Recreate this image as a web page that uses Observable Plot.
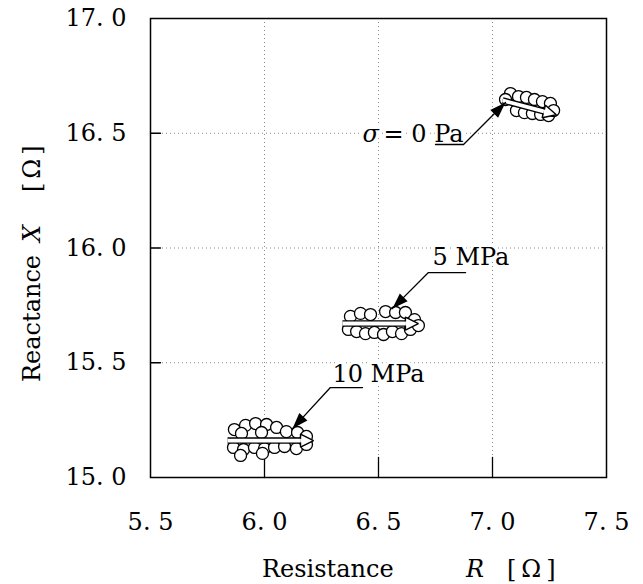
<!DOCTYPE html>
<html>
<head>
<meta charset="utf-8">
<script src="https://cdn.jsdelivr.net/npm/d3@7"></script>
<script src="https://cdn.jsdelivr.net/npm/@observablehq/plot@0.6"></script>
<style>
  html, body { margin: 0; padding: 0; background: #fff; }
  #chart svg { display: block; }
  #chart svg text.axis-title, #chart svg text.axis-title tspan { font-family: "DejaVu Serif", serif; font-size: 24px; }
</style>
</head>
<body>
<div id="chart"></div>
<script>
// ---- axis values and tick labels ----
const xTickValues = [5.5, 6.0, 6.5, 7.0, 7.5];
const xTickLabels = ["5. 5", "6. 0", "6. 5", "7. 0", "7. 5"];
const yTickValues = [15.0, 15.5, 16.0, 16.5, 17.0];
const yTickLabels = ["15. 0", "15. 5", "16. 0", "16. 5", "17. 0"];
const gridR = [6.0, 6.5, 7.0];
const gridX = [15.5, 16.0, 16.5];

// ---- measured points (R, X) for each stress level ----
const r0Pa = [7.079, 7.114, 7.149, 7.184, 7.219, 7.254, 7.105, 7.140, 7.175, 7.211, 7.246, 7.268, 7.057];
const x0Pa = [16.673, 16.660, 16.656, 16.647, 16.638, 16.630, 16.599, 16.590, 16.586, 16.582, 16.577, 16.599, 16.647];

const r5MPa = [6.377, 6.421, 6.465, 6.531, 6.575, 6.618, 6.658, 6.368, 6.404, 6.443, 6.482, 6.522, 6.561, 6.601, 6.640, 6.675];
const x5MPa = [15.702, 15.715, 15.710, 15.723, 15.719, 15.719, 15.688, 15.645, 15.636, 15.627, 15.632, 15.623, 15.636, 15.627, 15.645, 15.662];

const r10MPa = [5.868, 5.917, 5.961, 6.009, 6.053, 5.899, 5.987, 6.096, 6.145, 6.184, 5.864, 5.908, 5.956, 6.000, 6.044, 6.088, 6.140, 6.184, 5.895, 5.991];
const x10MPa = [15.209, 15.227, 15.235, 15.231, 15.218, 15.192, 15.196, 15.200, 15.196, 15.179, 15.131, 15.122, 15.131, 15.126, 15.131, 15.135, 15.126, 15.144, 15.096, 15.105];

// ---- trend arrows through each cluster (start -> head base) ----
const trendR1 = [7.044, 6.342, 5.838];
const trendX1 = [16.643, 15.671, 15.161];
const trendR2 = [7.225, 6.618, 6.158];
const trendX2 = [16.595, 15.671, 15.161];

// ---- annotation labels and leader lines ----
const annotLabels = ["= 0 Pa", "5 MPa", "10 MPa"];
const annotR = [6.430, 6.737, 6.298];
const annotX = [16.462, 15.928, 15.414];
const leaderId = [0, 0, 0, 1, 1, 1, 2, 2, 2];
const leaderR = [6.750, 6.873, 7.057, 6.882, 6.719, 6.561, 6.430, 6.289, 6.123];
const leaderX = [16.451, 16.451, 16.634, 15.893, 15.893, 15.736, 15.392, 15.392, 15.213];

// ---- build tables ----
const points = [
  ...r0Pa.map((r, i) => ({R: r, X: x0Pa[i]})),
  ...r5MPa.map((r, i) => ({R: r, X: x5MPa[i]})),
  ...r10MPa.map((r, i) => ({R: r, X: x10MPa[i]}))
];
const trends = trendR1.map((r, i) => ({R1: r, X1: trendX1[i], R2: trendR2[i], X2: trendX2[i]}));
const leaders = leaderR.map((r, i) => ({id: leaderId[i], R: r, X: leaderX[i]}));
const annots = annotLabels.map((t, i) => ({text: t, R: annotR[i], X: annotX[i], sigma: i === 0}));

const NS = "http://www.w3.org/2000/svg";
function blackHead(color, context) {
  const doc = (context && context.document) || document;
  const m = doc.createElementNS(NS, "marker");
  m.setAttribute("viewBox", "-16 -8 16 16");
  m.setAttribute("markerWidth", 16);
  m.setAttribute("markerHeight", 16);
  m.setAttribute("markerUnits", "userSpaceOnUse");
  m.setAttribute("orient", "auto");
  m.setAttribute("overflow", "visible");
  const p = doc.createElementNS(NS, "path");
  p.setAttribute("d", "M0,0L-16,-5.5L-16,5.5Z");
  p.setAttribute("fill", "black");
  p.setAttribute("stroke", "none");
  m.appendChild(p);
  return m;
}
function whiteHead(color, context) {
  const doc = (context && context.document) || document;
  const m = doc.createElementNS(NS, "marker");
  m.setAttribute("viewBox", "0 -8 14 16");
  m.setAttribute("markerWidth", 14);
  m.setAttribute("markerHeight", 16);
  m.setAttribute("markerUnits", "userSpaceOnUse");
  m.setAttribute("orient", "auto");
  m.setAttribute("overflow", "visible");
  m.setAttribute("refX", 0);
  m.setAttribute("refY", 0);
  const p = doc.createElementNS(NS, "path");
  p.setAttribute("d", "M0,-1.9L0,-6.5L13,0L0,6.5L0,1.9");
  p.setAttribute("fill", "white");
  p.setAttribute("stroke", "black");
  p.setAttribute("stroke-width", 1.4);
  p.setAttribute("stroke-linejoin", "miter");
  m.appendChild(p);
  return m;
}
const tickShape = {draw(context, l) { context.moveTo(0, 0); context.lineTo(0, -l); }};

const chart = Plot.plot({
  width: 643,
  height: 584,
  marginLeft: 150,
  marginRight: 37,
  marginTop: 18,
  marginBottom: 107,
  style: {fontFamily: "'DejaVu Serif', serif", fontSize: "24px", color: "black", background: "white"},
  x: {domain: [5.5, 7.5], axis: null},
  y: {domain: [15.0, 17.0], axis: null},
  marks: [
    Plot.ruleX(gridR, {stroke: "#888", strokeWidth: 1, strokeDasharray: "1,3"}),
    Plot.ruleY(gridX, {stroke: "#888", strokeWidth: 1, strokeDasharray: "1,3"}),
    Plot.vector(gridR, {x: d => d, frameAnchor: "bottom", anchor: "start", length: 20, rotate: 0, shape: tickShape, stroke: "black", strokeWidth: 1.3}),
    Plot.vector(gridX, {y: d => d, frameAnchor: "left", anchor: "start", length: 10, rotate: 90, shape: tickShape, stroke: "black", strokeWidth: 1.3}),
    Plot.axisX({ticks: xTickValues, tickFormat: d => xTickLabels[xTickValues.indexOf(d)], tickSize: 0, tickPadding: 35, fontSize: 24, label: null}),
    Plot.axisY({ticks: yTickValues, tickFormat: d => yTickLabels[yTickValues.indexOf(d)], tickSize: 0, tickPadding: 24, fontSize: 24, label: null}),
    Plot.frame({stroke: "black", strokeWidth: 1.5}),
    // annotation texts (white halo masks the grid behind them)
    Plot.text(annots.filter(d => d.sigma), {x: "R", y: "X", text: () => "σ", textAnchor: "start", lineAnchor: "bottom", fontSize: 24, fontStyle: "italic", fill: "black", stroke: "white", strokeWidth: 6}),
    Plot.text(annots.filter(d => !d.sigma), {x: "R", y: "X", text: "text", textAnchor: "start", lineAnchor: "bottom", fontSize: 24, fill: "black", stroke: "white", strokeWidth: 6}),
    Plot.text(annots.filter(d => d.sigma), {x: "R", y: "X", text: "text", dx: 21, textAnchor: "start", lineAnchor: "bottom", fontSize: 24, fill: "black", stroke: "white", strokeWidth: 6}),
    Plot.dot(points, {x: "R", y: "X", r: 6, fill: "white", stroke: "black", strokeWidth: 1.3}),
    Plot.link(trends, {x1: "R1", y1: "X1", x2: "R2", y2: "X2", stroke: "black", strokeWidth: 6.5}),
    Plot.link(trends, {x1: "R1", y1: "X1", x2: "R2", y2: "X2", stroke: "white", strokeWidth: 3.8, markerEnd: whiteHead}),
    Plot.line(leaders, {x: "R", y: "X", z: "id", stroke: "black", strokeWidth: 1.3, markerEnd: blackHead})
  ]
});
document.getElementById("chart").appendChild(chart);

// axis titles with italic symbols
const svg = d3.select(chart);
const xl = svg.append("text")
  .attr("class", "axis-title")
  .attr("y", 577)
  .attr("fill", "black")
  .attr("text-anchor", "start")
  .attr("font-family", "DejaVu Serif");
xl.append("tspan").attr("x", 262).text("Resistance");
xl.append("tspan").attr("x", 466).style("font-style", "italic").text("R");
xl.append("tspan").attr("x", 507).style("letter-spacing", "5px").text("[Ω]");

const yl = svg.append("text")
  .attr("class", "axis-title")
  .attr("transform", "translate(40,382) rotate(-90)")
  .attr("fill", "black")
  .attr("text-anchor", "start")
  .attr("font-family", "DejaVu Serif");
yl.append("tspan").attr("x", 0).text("Reactance");
yl.append("tspan").attr("x", 140).style("font-style", "italic").text("X");
yl.append("tspan").attr("x", 190).style("letter-spacing", "4px").text("[Ω]");
</script>
</body>
</html>
